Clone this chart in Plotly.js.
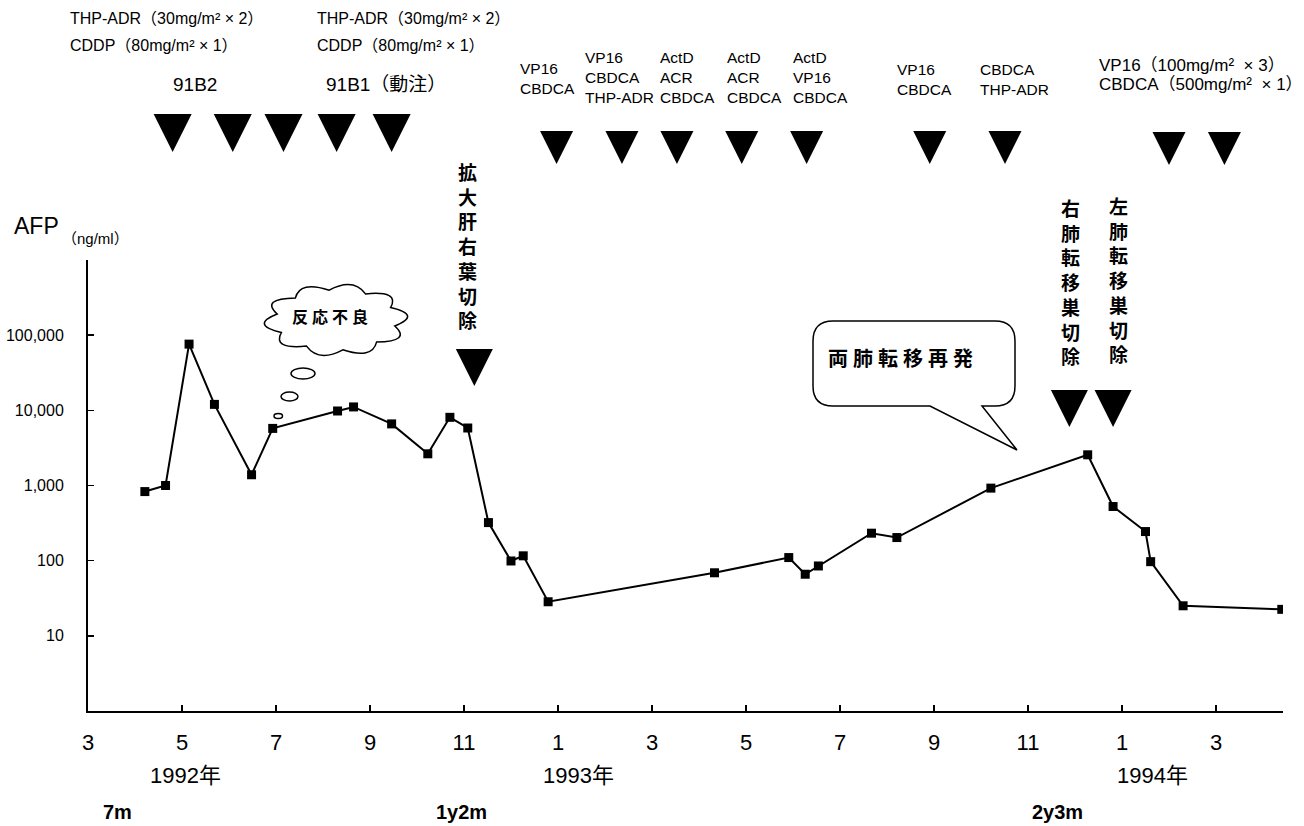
<!DOCTYPE html>
<html><head><meta charset="utf-8">
<script src="https://cdn.plot.ly/plotly-3.0.1.min.js"></script>
<style>html,body{margin:0;padding:0;background:#fff}</style>
</head><body><div id="chart" style="width:1304px;height:826px"></div>
<script>
// x = months counted from March 1992 (0 = 1992/3)
const afpMonth = [1.21,1.65,2.15,2.69,3.48,3.93,5.31,5.65,6.46,7.23,7.70,8.08,8.52,9.00,9.26,9.79,13.33,14.91,15.26,15.54,16.67,17.21,19.21,21.27,21.81,22.50,22.61,23.30,25.40];
const afpValue = [830,1000,76000,12000,1390,5750,9800,11100,6600,2640,8070,5820,321,99,116,28.4,69,110,66,85,232,203,923,2560,525,244,97,25.1,22.5];

const chemoA = [1.80,3.08,4.16,5.29,6.46];                  // 91B2 / 91B1
const chemoB = [9.97,11.36,12.53,13.91,15.29,17.91,19.51];  // VP16/CBDCA etc.
const chemoC = [23.00,24.18];                               // VP16 + CBDCA
const surgeryLiver = [8.22];
const surgeryLung = [20.88,21.81];

const xTickMonths = [0,2,4,6,8,10,12,14,16,18,20,22,24];
const xTickText = ['3','5','7','9','11','1','3','5','7','9','11','1','3'];
const yTickVals = [10,100,1000,10000,100000,1000000];
const yTickText = ['10','100','1,000','10,000','100,000',''];
const yearLabels = ['1992年','1993年','1994年'];
const elapsedLabels = ['7m','1y2m','2y3m'];

// ---- layout helpers (figure pixel -> paper) ----
const W = 1304, H = 826, ML = 88, MR = 21, MT = 0, MB = 115;
const PW = W - ML - MR, PH = H - MT - MB;
const X = px => (px - ML) / PW;
const Y = py => (PH + MT - py) / PH;

const LAT = 'Liberation Sans, Arial, Noto Sans CJK JP, sans-serif';
const CJK = 'Noto Sans CJK JP, sans-serif';

function tri(xs, tip, size) {
  return {x: xs, y: xs.map(() => tip), xaxis: 'x', yaxis: 'y2', mode: 'markers',
    type: 'scatter', cliponaxis: false, hoverinfo: 'skip', showlegend: false,
    marker: {symbol: 'arrow-down', size: size, color: '#000', line: {width: 0}}};
}

const traces = [
  {x: afpMonth, y: afpValue, type: 'scatter', mode: 'lines+markers', showlegend: false,
   line: {color: '#000', width: 2}, marker: {symbol: 'square', size: 9, color: '#000'}},
  tri(chemoA, 152, 38),
  tri(chemoB, 164, 33),
  tri(chemoC, 165, 33),
  tri(surgeryLiver, 386, 37),
  tri(surgeryLung, 427, 37)
];

function ann(text, px, py, o) {
  o = o || {};
  return {text: text, x: X(px), y: Y(py), xref: 'paper', yref: 'paper',
    showarrow: false, xanchor: o.xa || 'center', yanchor: 'middle', align: o.align || 'center',
    font: {family: o.family || LAT, size: o.size || 15, color: '#000', weight: o.weight || 'normal'}};
}
const vert = s => s.split('').join('<br>');
const sp = s => s.split('').join('\u2005');

const annotations = [
  ann('THP-ADR（30mg/m² × 2）', 68, 18, {xa: 'left', size: 16}),
  ann('CDDP（80mg/m² × 1）', 68, 45, {xa: 'left', size: 16}),
  ann('THP-ADR（30mg/m² × 2）', 315, 18, {xa: 'left', size: 16}),
  ann('CDDP（80mg/m² × 1）', 315, 45, {xa: 'left', size: 16}),
  ann('91B2', 195, 85, {size: 19}),
  ann('91B1（動注）', 386, 85, {size: 19}),
  ann('VP16<br>CBDCA', 518, 78, {xa: 'left', align: 'left', size: 15.5}),
  ann('VP16<br>CBDCA<br>THP-ADR', 583, 77.5, {xa: 'left', align: 'left', size: 15.5}),
  ann('ActD<br>ACR<br>CBDCA', 658, 77.5, {xa: 'left', align: 'left', size: 15.5}),
  ann('ActD<br>ACR<br>CBDCA', 725, 77.5, {xa: 'left', align: 'left', size: 15.5}),
  ann('ActD<br>VP16<br>CBDCA', 791, 77.5, {xa: 'left', align: 'left', size: 15.5}),
  ann('VP16<br>CBDCA', 895, 79, {xa: 'left', align: 'left', size: 15.5}),
  ann('CBDCA<br>THP-ADR', 978, 79, {xa: 'left', align: 'left', size: 15.5}),
  ann('VP16（100mg/m²  × 3）', 1097, 65, {xa: 'left', size: 17}),
  ann('CBDCA（500mg/m²  × 1）', 1097, 84, {xa: 'left', size: 17}),
  ann(vert('拡大肝右葉切除'), 467, 245, {family: CJK, size: 19, weight: 'bold'}),
  ann(vert('右肺転移巣切除'), 1070, 281, {family: CJK, size: 19, weight: 'bold'}),
  ann(vert('左肺転移巣切除'), 1118, 279, {family: CJK, size: 19, weight: 'bold'}),
  ann(sp('反応不良'), 330, 316, {family: CJK, size: 16, weight: 'bold'}),
  ann(sp('両肺転移再発'), 900, 357, {family: CJK, size: 20, weight: 'bold'}),
  ann('AFP', 12, 226, {xa: 'left', size: 23}),
  ann('（ng/ml）', 60, 238, {xa: 'left', size: 15}),
  ann(yearLabels[0], 185, 775, {size: 22}),
  ann(yearLabels[1], 578, 775, {size: 22}),
  ann(yearLabels[2], 1152, 775, {size: 22}),
  ann(elapsedLabels[0], 117, 812, {size: 20, weight: 'bold'}),
  ann(elapsedLabels[1], 461, 812, {size: 20, weight: 'bold'}),
  ann(elapsedLabels[2], 1057, 812, {size: 20, weight: 'bold'})
];

// ---- decorative callouts ----
function cloudPath(cx, cy, rx, ry, n, k) {
  let d = '';
  for (let i = 0; i <= n; i++) {
    const a = (i / n) * 2 * Math.PI + 0.2;
    const x = cx + rx * Math.cos(a), y = cy + ry * Math.sin(a);
    if (i === 0) { d += 'M' + X(x) + ',' + Y(y); continue; }
    const am = ((i - 0.5) / n) * 2 * Math.PI + 0.2;
    const qx = cx + k * rx * Math.cos(am), qy = cy + k * ry * Math.sin(am);
    d += 'Q' + X(qx) + ',' + Y(qy) + ' ' + X(x) + ',' + Y(y);
  }
  return d + 'Z';
}
function bubblePath(x0, y0, x1, y1, r, tl, tr, tipx, tipy) {
  const P = (x, y) => X(x) + ',' + Y(y);
  return 'M' + P(x0 + r, y0) + 'L' + P(x1 - r, y0) + 'Q' + P(x1, y0) + ' ' + P(x1, y0 + r) +
    'L' + P(x1, y1 - r) + 'Q' + P(x1, y1) + ' ' + P(x1 - r, y1) +
    'L' + P(tr, y1) + 'L' + P(tipx, tipy) + 'L' + P(tl, y1) +
    'L' + P(x0 + r, y1) + 'Q' + P(x0, y1) + ' ' + P(x0, y1 - r) +
    'L' + P(x0, y0 + r) + 'Q' + P(x0, y0) + ' ' + P(x0 + r, y0) + 'Z';
}
const lineS = {color: '#000', width: 1.5};
const ell = (x0, x1, y0, y1) => ({type: 'circle', xref: 'paper', yref: 'paper',
  x0: X(x0), x1: X(x1), y0: Y(y0), y1: Y(y1), line: lineS, fillcolor: '#fff'});
const shapes = [
  {type: 'path', xref: 'paper', yref: 'paper', path: cloudPath(336, 320, 60, 30, 10, 1.45), line: lineS, fillcolor: '#fff'},
  ell(291, 315, 368, 379),
  ell(281, 298, 392, 401),
  ell(274, 282.5, 413.5, 418.5),
  {type: 'path', xref: 'paper', yref: 'paper', path: bubblePath(813, 321, 1015, 406, 20, 930, 982, 1017, 450), line: lineS, fillcolor: '#fff'}
];

const layout = {
  width: W, height: H, autosize: false,
  margin: {l: ML, r: MR, t: MT, b: MB, pad: 0},
  paper_bgcolor: '#fff', plot_bgcolor: 'rgba(0,0,0,0)',
  showlegend: false,
  xaxis: {range: [0, (1283 - ML) / 47], anchor: 'y', showgrid: false, zeroline: false,
    showline: true, linecolor: '#000', linewidth: 2, ticks: 'inside', ticklen: 6, tickwidth: 1.5, tickcolor: '#000',
    tickmode: 'array', tickvals: xTickMonths, ticktext: xTickText, ticklabelstandoff: 11,
    tickfont: {family: LAT, size: 22, color: '#000'}},
  yaxis: {type: 'log', range: [0, 6], domain: [0, 451 / PH], anchor: 'x', showgrid: false, zeroline: false,
    showline: true, linecolor: '#000', linewidth: 2, ticks: 'inside', ticklen: 6, tickwidth: 1.5, tickcolor: '#000',
    tickmode: 'array', tickvals: yTickVals, ticktext: yTickText, ticklabelstandoff: 19,
    tickfont: {family: LAT, size: 16, color: '#000'}},
  yaxis2: {domain: [0, 1], range: [PH, 0], anchor: 'x', visible: false, showgrid: false, zeroline: false},
  annotations: annotations,
  shapes: shapes
};

Plotly.newPlot('chart', traces, layout, {displayModeBar: false, staticPlot: true});
</script></body></html>
